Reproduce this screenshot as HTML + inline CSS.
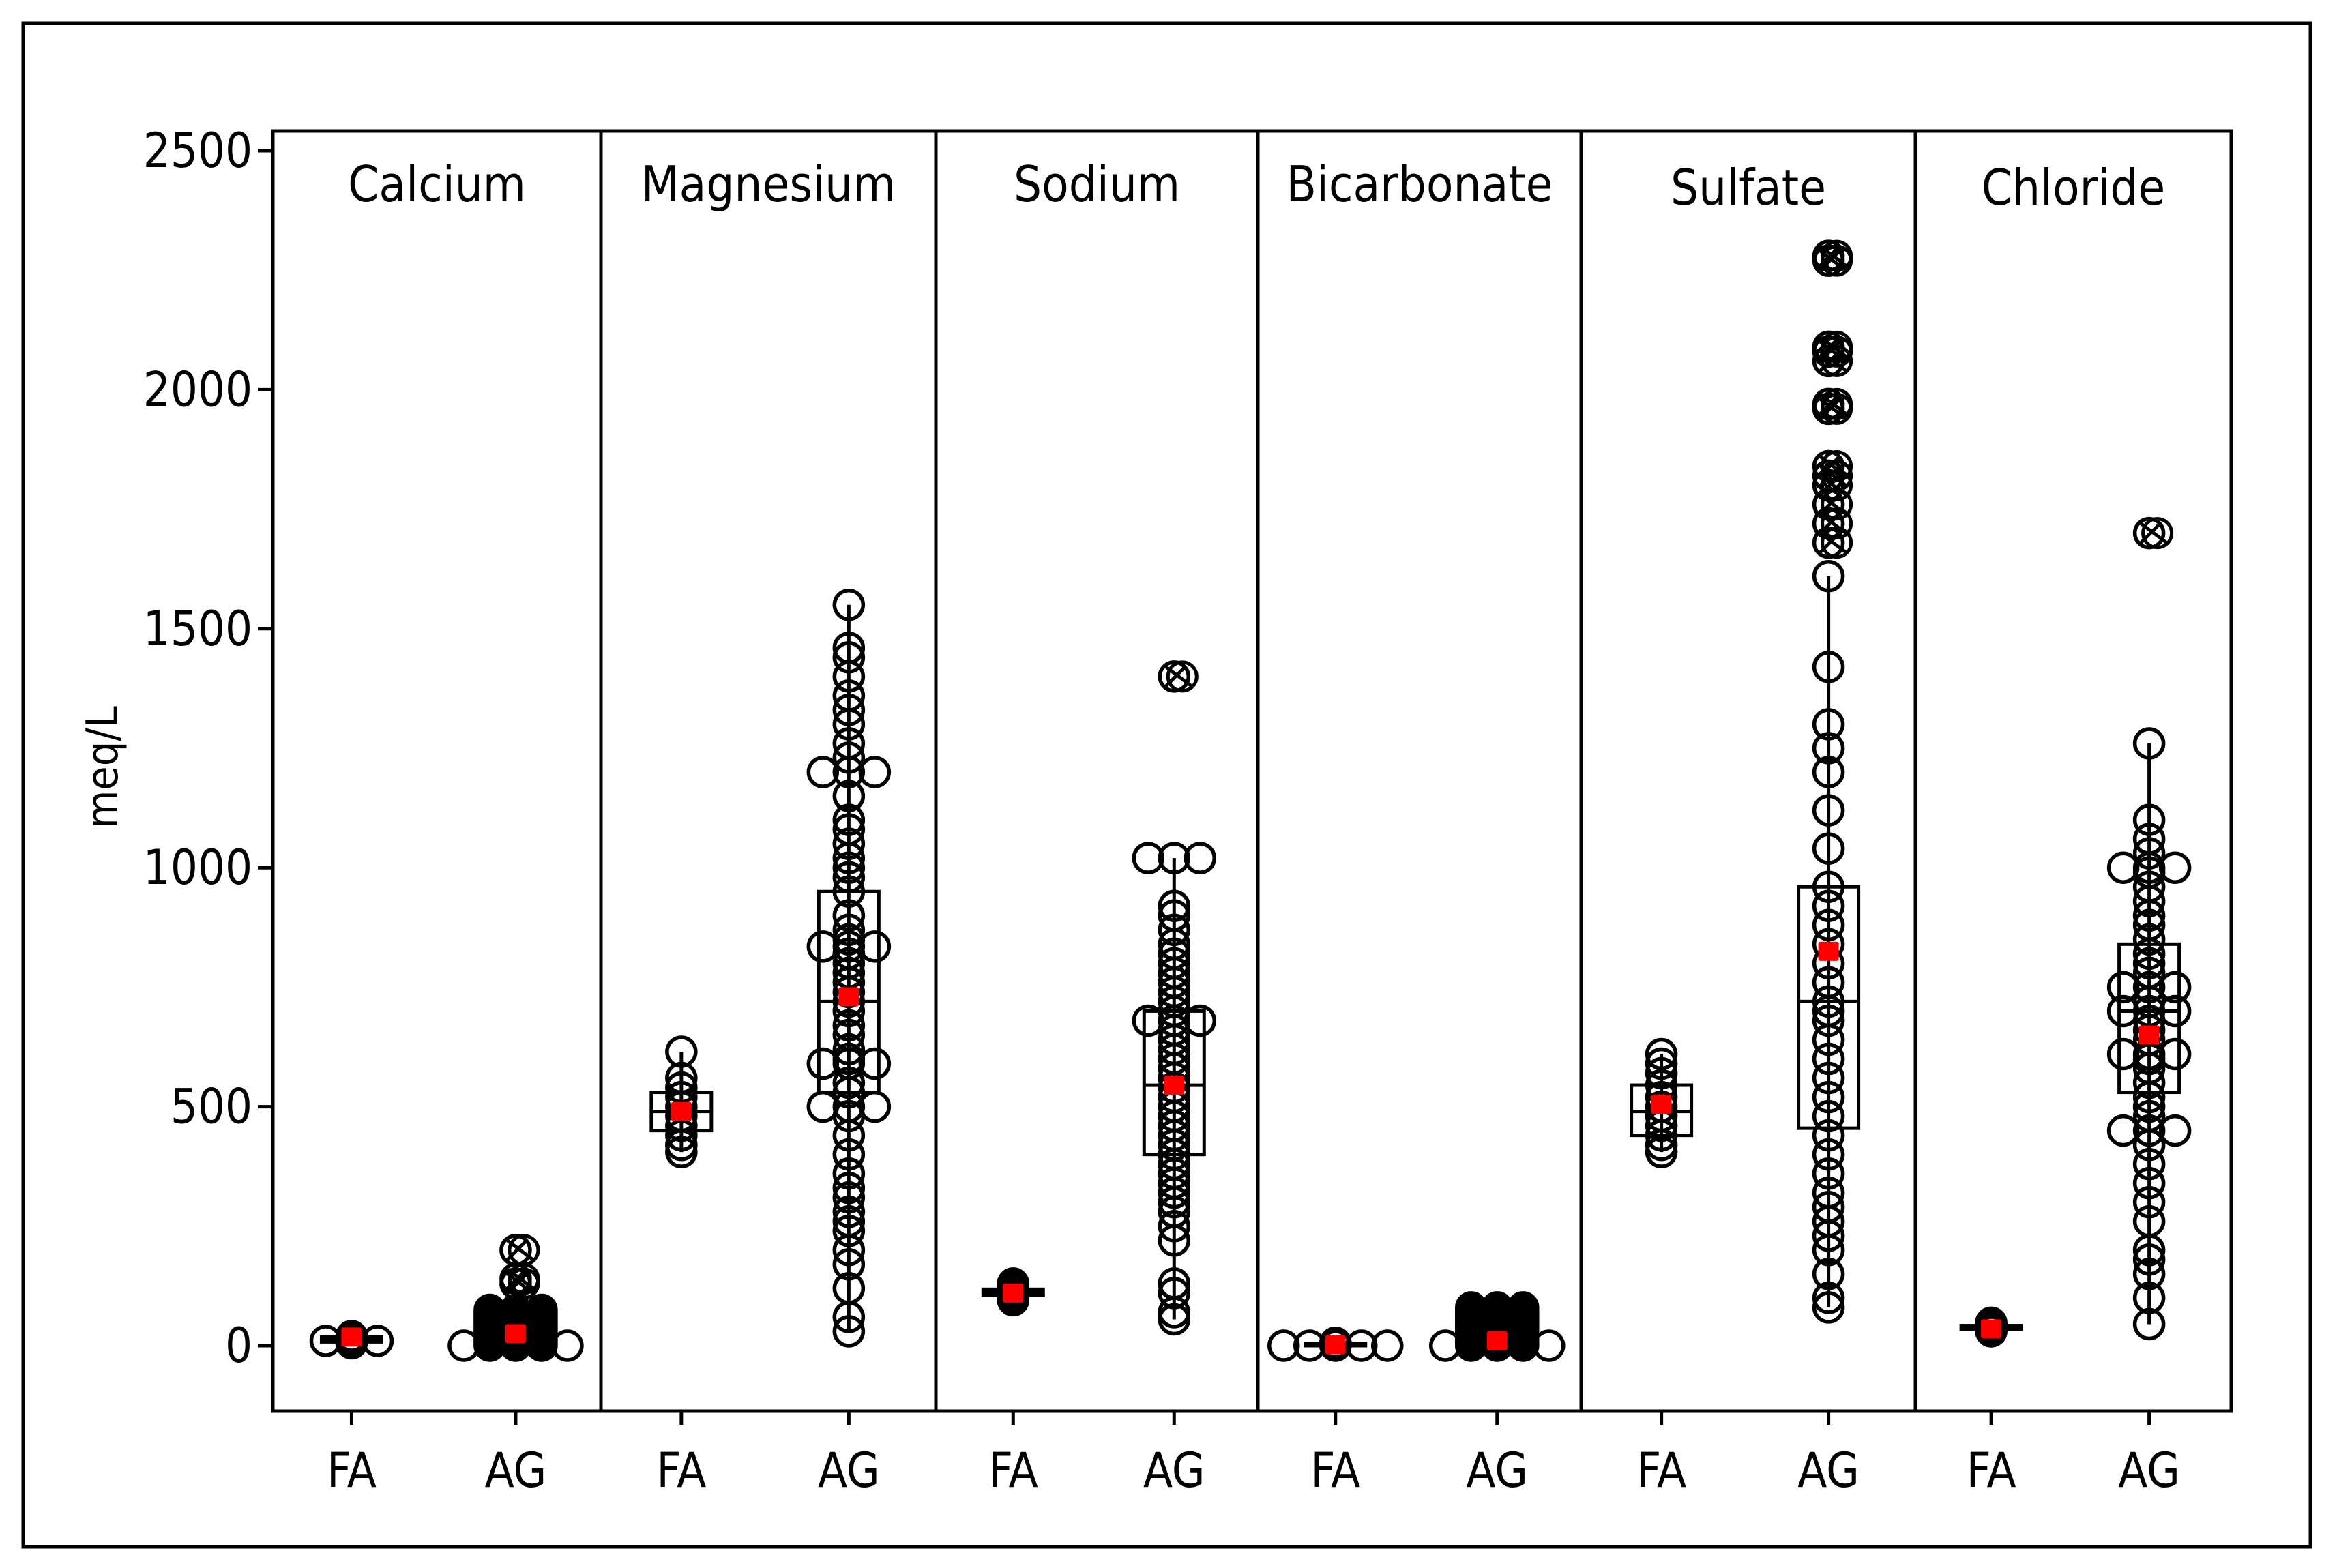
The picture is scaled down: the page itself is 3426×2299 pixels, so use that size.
<!DOCTYPE html>
<html><head><meta charset="utf-8"><style>
html,body{margin:0;padding:0;background:#fff}
svg{display:block}
text{font-family:"DejaVu Sans Condensed","Liberation Sans",sans-serif;fill:#000}
</style></head><body>
<svg id="chart" width="3426" height="2299" viewBox="0 0 3426 2299" xmlns="http://www.w3.org/2000/svg">
<rect x="34" y="34" width="3353" height="2234" fill="none" stroke="#000" stroke-width="5"/>
<g id="g"></g>
</svg>
<script>
const panels = ["Calcium","Magnesium","Sodium","Bicarbonate","Sulfate","Chloride"];
const groups = ["FA","AG"];
const yTicks = [0,500,1000,1500,2000,2500];
// [whiskerLo, q1, median, q3, whiskerHi] per panel, FA then AG
const boxFA = [[5,8,12,18,25],[405,450,490,530,615],[95,105,112,118,130],[0,0,2,4,6],[405,440,490,545,610],[30,35,38,42,48]];
const boxAG = [[0,5,30,75,75],[30,530,720,950,1550],[55,400,545,700,1020],[0,0,5,20,80],[80,455,720,960,1610],[45,530,700,840,1260]];
const meanFA = [18,490,110,2,505,35];
const meanAG = [25,730,545,10,825,650];
const ptsFA = [
 [5,8,10,10,10,12,15,18,20],
 [405,420,440,460,480,500,520,540,560,615],
 [95,100,105,110,115,120,125,130],
 [0,0,0,0,0,1,2,3,4,5,6],
 [405,420,440,460,480,500,520,545,570,590,610],
 [30,33,36,38,40,42,45,48]
];
const ptsAG = [
 [0,0,0,0,0,5,5,5,10,10,10,15,15,15,20,20,20,25,25,25,30,30,30,35,35,35,40,40,40,45,45,45,50,50,50,55,55,55,60,60,60,65,65,65,70,70,70,75,75,75],
 [30,60,120,170,200,240,260,280,310,330,360,400,440,480,500,500,500,530,550,590,590,590,600,620,650,670,700,720,740,760,780,800,820,835,835,835,850,870,900,950,980,1000,1020,1050,1080,1100,1150,1200,1200,1200,1230,1260,1300,1330,1360,1400,1440,1460,1550],
 [55,70,110,130,220,250,280,300,320,340,360,380,400,420,440,460,480,500,520,540,560,580,600,620,640,660,680,680,680,700,720,740,760,780,800,820,840,870,900,920,1020,1020,1020],
 [0,0,0,0,0,5,5,5,10,10,10,15,15,15,20,20,20,25,25,25,30,30,30,35,35,35,40,40,40,45,45,45,50,50,50,55,55,55,60,60,60,65,65,65,70,70,70,75,75,75,80,80,80],
 [80,100,150,200,230,260,290,320,360,400,440,480,520,560,600,640,680,700,720,760,800,840,880,920,960,1040,1120,1200,1250,1300,1420,1610],
 [45,100,150,180,200,260,300,340,380,420,450,450,450,480,500,520,550,580,600,610,610,610,640,660,680,700,700,700,720,750,750,750,780,800,820,850,880,900,930,960,990,1000,1000,1000,1030,1060,1100,1260]
];
const outFA = [[],[],[],[],[],[]];
const outAG = [[130,140,200],[],[1400],[],[1680,1720,1760,1800,1820,1840,1960,1970,2060,2080,2090,2270,2280],[1700]];

const X0=400, X1=3271, Y0=192, Y1=2069;
const dividers=[400,881,1372,1844,2318,2808,3271];
function yS(v){return 1973 - v*0.7008;}
function xS(p,gi){const l=dividers[p],r=dividers[p+1];const off=gi===0?0.24:0.74;return l+(r-l)*off;}
const NS="http://www.w3.org/2000/svg";
const G=document.getElementById('g');
function mk(tag,attrs,parent){const e=document.createElementNS(NS,tag);for(const k in attrs)e.setAttribute(k,attrs[k]);(parent||G).appendChild(e);return e;}

const fr=mk('rect',{x:X0,y:Y0,width:X1-X0,height:Y1-Y0,fill:'none',stroke:'#000','stroke-width':5});


for(let i=1;i<dividers.length-1;i++){
 const d=mk('line',{x1:dividers[i],x2:dividers[i],y1:Y0,y2:Y1,stroke:'#000','stroke-width':5});
 
 
}
yTicks.forEach(t=>{
 const y=yS(t);
 const l=mk('line',{x1:X0-22,x2:X0,y1:y,y2:y,stroke:'#000','stroke-width':5});
 
 
 const tx=mk('text',{x:X0-30,y:y+24,'text-anchor':'end','font-size':70});
 tx.textContent=t;
 
 
});
const yt=mk('text',{x:0,y:0,'text-anchor':'middle','font-size':64,transform:'translate(172,1125) rotate(-90)'});
yt.textContent='meq/L';



function drawGroup(p,gi,box,mean,pts,outs){
 const cx=xS(p,gi);
 const bw=88, r=21;
 const w=mk('line',{x1:cx,x2:cx,y1:yS(box[0]),y2:yS(box[4]),stroke:'#000','stroke-width':5});
 
 
 const b=mk('rect',{x:cx-bw/2,y:yS(box[3]),width:bw,height:Math.max(2,yS(box[1])-yS(box[3])),fill:'none',stroke:'#000','stroke-width':5});
 
 
 const md=mk('line',{x1:cx-bw/2,x2:cx+bw/2,y1:yS(box[2]),y2:yS(box[2]),stroke:'#000','stroke-width':5});
 
 
 const seen={};
 pts.forEach(v=>{
  const y=yS(v);
  const n=seen[v]||0; seen[v]=n+1;
  const offs=[0,-38,38,-76,76];
  const c=mk('circle',{cx:cx+offs[n%5],cy:y,r:r,fill:'none',stroke:'#000','stroke-width':5.5});
  
  
 });
 outs.forEach(v=>{
  const y=yS(v);
  const x=cx;
  const c=mk('circle',{cx:x,cy:y,r:r,fill:'none',stroke:'#000','stroke-width':5.5});
  
  
  const c2=mk('circle',{cx:x+12,cy:y,r:r,fill:'none',stroke:'#000','stroke-width':5});
  
  
  const xx=mk('path',{d:`M${x-12} ${y-14}L${x+28} ${y+16}M${x-12} ${y+14}L${x+16} ${y-14}`,stroke:'#000','stroke-width':5});
  
  
 });
 const m=mk('rect',{x:cx-15,y:yS(mean)-14,width:30,height:28,rx:3,fill:'#ff0000'});
 
 
 const t=mk('line',{x1:cx,x2:cx,y1:Y1,y2:Y1+20,stroke:'#000','stroke-width':5});
 
 
 const lb=mk('text',{x:cx,y:2180,'text-anchor':'middle','font-size':70});
 lb.textContent=groups[gi];
 
 
}
panels.forEach((name,p)=>{
 const tx=mk('text',{x:(dividers[p]+dividers[p+1])/2,y:(p>=4?300:295),'text-anchor':'middle','font-size':72});
 tx.textContent=name;
 
 
 drawGroup(p,0,boxFA[p],meanFA[p],ptsFA[p],outFA[p]);
 drawGroup(p,1,boxAG[p],meanAG[p],ptsAG[p],outAG[p]);
});
</script>
</body></html>
